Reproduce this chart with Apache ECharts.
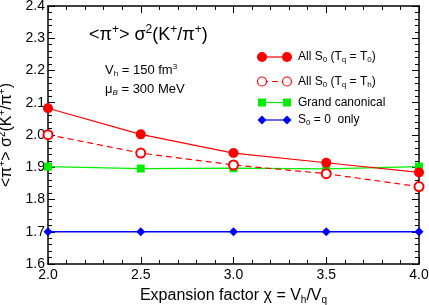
<!DOCTYPE html>
<html><head><meta charset="utf-8">
<script src="https://cdn.jsdelivr.net/npm/echarts@6/dist/echarts.min.js"></script>
<style>html,body{margin:0;padding:0;background:#fff}#c{width:429px;height:305px}</style>
</head><body><div id="c"></div>
<script>
var xs = [2.0, 2.5, 3.0, 3.5, 4.0];
var allS0_T0 = [2.083, 2.002, 1.944, 1.914, 1.884];
var allS0_Th = [2.001, 1.944, 1.907, 1.880, 1.840];
var grandCanonical = [1.902, 1.896, 1.897, 1.895, 1.902];
var s0Only = [1.700, 1.700, 1.700, 1.700, 1.700];
var seriesNames = ['All S0 (Tq = T0)', 'All S0 (Tq = Th)', 'Grand canonical', 'S0 = 0  only'];

var FONT = '"Liberation Sans", Arial, Helvetica, sans-serif';
function pairs(v){ return xs.map(function(x,i){ return [x, v[i]]; }); }
var chart = echarts.init(document.getElementById('c'), null, {renderer:'canvas'});

function richSet(base){
  return {
    sup: {fontSize: Math.round(base*0.65), padding: [0,0,Math.round(base*0.55),0], fontFamily: FONT, color:'#000'},
    sub: {fontSize: Math.round(base*0.65), padding: [Math.round(base*0.5),0,0,0], fontFamily: FONT, color:'#000'},
    it: {fontStyle:'italic', fontSize: Math.round(base*0.65), padding: [Math.round(base*0.5),0,0,0], fontFamily: FONT, color:'#000'}
  };
}

var axisLine = {lineStyle:{color:'#000', width:1.5}};
function legendRow(y, color, symbol, symSize, dashed, hollow, label){
  var els = [{
    type:'line', shape:{x1:262, y1:y, x2:287, y2:y},
    style:{stroke:color, lineWidth:1.2, lineDash: dashed ? [6,4] : null}
  }];
  [262, 287].forEach(function(cx){
    var s;
    if (symbol === 'circle') s = {type:'circle', shape:{cx:cx, cy:y, r:symSize/2}};
    else if (symbol === 'rect') s = {type:'rect', shape:{x:cx-symSize/2, y:y-symSize/2, width:symSize, height:symSize}};
    else s = {type:'polygon', shape:{points:[[cx, y-symSize/2],[cx+symSize/2, y],[cx, y+symSize/2],[cx-symSize/2, y]]}};
    s.style = hollow ? {fill:'#fff', stroke:color, lineWidth:1.2} : {fill:color};
    els.push(s);
  });
  els.push({type:'text', x:298, y:y, style:{text:label, font:'12px '+FONT, fill:'#000', verticalAlign:'middle', rich: richSet(12)}});
  return els;
}

var graphics = [].concat(
  legendRow(57, '#ff0000', 'circle', 10, false, false, 'All S{sub|0} (T{sub|q} = T{sub|0})'),
  legendRow(81.5, '#ff0000', 'circle', 9, true, true, 'All S{sub|0} (T{sub|q} = T{sub|h})'),
  legendRow(102.5, '#00ee00', 'rect', 8, false, false, 'Grand canonical'),
  legendRow(120, '#0000ff', 'diamond', 9, false, false, 'S{sub|0} = 0  only'),
  [
    {type:'text', x:89, y:35, style:{text:'<π{sup|+}> σ{sup|2}(K{sup|+}/π{sup|+})', font:'18px '+FONT, fill:'#000', verticalAlign:'middle', rich: richSet(18)}},
    {type:'text', x:105, y:70, style:{text:'V{sub|h} = 150 fm{sup|3}', font:'13px '+FONT, fill:'#000', verticalAlign:'middle', rich: richSet(13)}},
    {type:'text', x:105, y:89, style:{text:'μ{it|B} = 300 MeV', font:'13px '+FONT, fill:'#000', verticalAlign:'middle', rich: richSet(13)}}
  ]
);

function mkSeries(name, data, color, symbol, size, dashed, hollow, lw){
  return {
    name:name, type:'line', data: pairs(data), clip:false,
    symbol: symbol === 'circle' ? (hollow ? 'emptyCircle' : 'circle') : symbol,
    symbolSize: size, showAllSymbol:true,
    lineStyle:{color:color, width:lw, type: dashed ? [6,4] : 'solid'},
    itemStyle:{color: color, borderColor: color, borderWidth: hollow ? 1.2 : 0},
    emphasis:{disabled:true}, animation:false, z: 3
  };
}

var option = {
  animation:false,
  grid:{left:48, right:10, top:6, bottom:41, containLabel:false, outerBoundsMode:'none'},
  xAxis:[{
    type:'value', min:2.0, max:4.0, interval:0.5,
    axisLine: axisLine,
    axisTick:{inside:true, length:7, lineStyle:{color:'#000', width:1}},
    minorTick:{show:true, splitNumber:5, length:4, lineStyle:{color:'#000', width:1}},
    splitLine:{show:false}, minorSplitLine:{show:false},
    axisLabel:{color:'#000', fontSize:14, fontFamily:FONT, margin:4, formatter:function(v){return v.toFixed(1);}},
    name:'Expansion factor χ = V{sub|h}/V{sub|q}', nameLocation:'middle', nameGap:23,
    nameTextStyle:{color:'#000', fontSize:16, fontFamily:FONT, rich: richSet(16)}
  },{
    type:'value', min:2.0, max:4.0, interval:0.5, position:'top',
    axisLine: axisLine,
    axisTick:{inside:true, length:7, lineStyle:{color:'#000', width:1}},
    minorTick:{show:true, splitNumber:5, length:4, lineStyle:{color:'#000', width:1}},
    splitLine:{show:false}, axisLabel:{show:false}
  }],
  yAxis:[{
    type:'value', min:1.6, max:2.4, interval:0.1,
    axisLine: axisLine,
    axisTick:{inside:true, length:7, lineStyle:{color:'#000', width:1}},
    minorTick:{show:true, splitNumber:5, length:4, lineStyle:{color:'#000', width:1}},
    splitLine:{show:false}, minorSplitLine:{show:false},
    axisLabel:{color:'#000', fontSize:14, fontFamily:FONT, margin:3, formatter:function(v){return v.toFixed(1);}},
    name:'<π{sup|+}> σ{sup|2}(K{sup|+}/π{sup|+})', nameLocation:'middle', nameGap:22, nameRotate:90,
    nameTextStyle:{color:'#000', fontSize:16, fontFamily:FONT, rich: richSet(16)}
  },{
    type:'value', min:1.6, max:2.4, interval:0.1, position:'right',
    axisLine: axisLine,
    axisTick:{inside:true, length:7, lineStyle:{color:'#000', width:1}},
    minorTick:{show:true, splitNumber:5, length:4, lineStyle:{color:'#000', width:1}},
    splitLine:{show:false}, axisLabel:{show:false}
  }],
  series:[
    mkSeries(seriesNames[3], s0Only, '#0000ff', 'diamond', 9, false, false, 1.5),
    mkSeries(seriesNames[2], grandCanonical, '#00ee00', 'rect', 8, false, false, 1.3),
    mkSeries(seriesNames[1], allS0_Th, '#ff0000', 'circle', 9, true, true, 1.2),
    mkSeries(seriesNames[0], allS0_T0, '#ff0000', 'circle', 10, false, false, 1.2)
  ],
  graphic: graphics
};
chart.setOption(option);
</script></body></html>
